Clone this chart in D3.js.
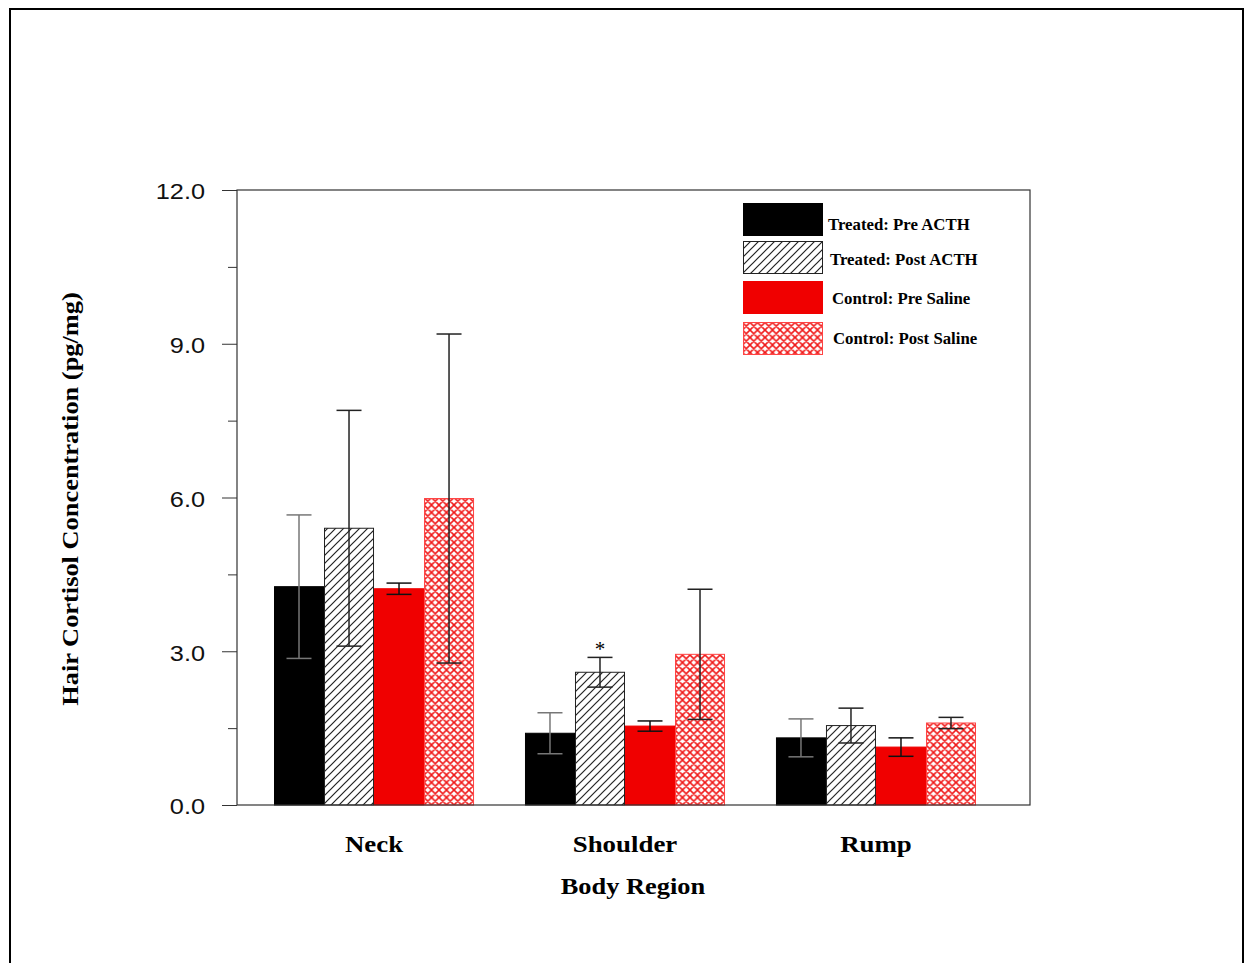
<!DOCTYPE html>
<html>
<head>
<meta charset="utf-8">
<script src="https://cdn.jsdelivr.net/npm/d3@7"></script>
<style>
  body { margin: 0; background: #fff; }
  svg { display: block; }
</style>
</head>
<body>
<svg id="chart" width="1246" height="963"></svg>
<script>
// data
var regions = ["Neck", "Shoulder", "Rump"];
var seriesNames = ["Treated: Pre ACTH", "Treated: Post ACTH", "Control: Pre Saline", "Control: Post Saline"];

var preACTH = [4.26, 1.40, 1.31];
var postACTH = [5.40, 2.59, 1.55];
var preSaline = [4.22, 1.54, 1.13];
var postSaline = [5.98, 2.94, 1.60];

var preACTHErr = [1.40, 0.40, 0.37];
var postACTHErr = [2.30, 0.29, 0.34];
var preSalineErr = [0.11, 0.10, 0.18];
var postSalineErr = [3.21, 1.27, 0.11];

var postACTHMark = ["", "*", ""];

var majorTicks = [0, 3, 6, 9, 12];
var minorTicks = [1.5, 4.5, 7.5, 10.5];

var seriesValues = [preACTH, postACTH, preSaline, postSaline];
var seriesErrors = [preACTHErr, postACTHErr, preSalineErr, postSalineErr];
var seriesMarks = [null, postACTHMark, null, null];

// layout
var margin = {top: 190, left: 237},
    width = 793,
    height = 615;

var svg = d3.select("#chart");
var serif = "'Liberation Serif', 'Times New Roman', serif";

// stretch text horizontally around its own x (the original figure's text is wide)
function widen(sel, k) {
  sel.attr("transform", function() {
    var x0 = +d3.select(this).attr("x") || 0;
    return "translate(" + x0 + ",0) scale(" + k + ",1) translate(" + (-x0) + ",0)";
  });
}

// patterns
var defs = svg.append("defs");
var hatch = defs.append("pattern")
    .attr("id", "hatch")
    .attr("patternUnits", "userSpaceOnUse")
    .attr("width", 8).attr("height", 8);
hatch.append("rect").attr("width", 8).attr("height", 8).attr("fill", "#fff");
hatch.append("path")
    .attr("d", "M-2,2 L2,-2 M0,8 L8,0 M6,10 L10,6")
    .attr("stroke", "#222").attr("stroke-width", 1.2);

var p = 7.5;
var cross = defs.append("pattern")
    .attr("id", "cross")
    .attr("patternUnits", "userSpaceOnUse")
    .attr("width", p).attr("height", p);
cross.append("rect").attr("width", p).attr("height", p).attr("fill", "#fff");
cross.append("path")
    .attr("d", "M-2,2 L2,-2 M0," + p + " L" + p + ",0 M" + (p - 2) + "," + (p + 2) + " L" + (p + 2) + "," + (p - 2) +
               " M-2," + (p - 2) + " L2," + (p + 2) + " M0,0 L" + p + "," + p + " M" + (p - 2) + ",-2 L" + (p + 2) + ",2")
    .attr("stroke", "#f01818").attr("stroke-width", 1.6);

var fills = ["#000", "url(#hatch)", "#f00000", "url(#cross)"];
var strokes = ["#000", "#222", "#f00000", "#f44"];
var errColors = ["#777", "#222", "#111", "#222"];

// figure frame
svg.append("rect")
    .attr("x", 10).attr("y", 9)
    .attr("width", 1233).attr("height", 1000)
    .attr("fill", "none")
    .attr("stroke", "#000")
    .attr("stroke-width", 2);

var chart = svg.append("g")
    .attr("transform", "translate(" + margin.left + "," + margin.top + ")");

// scales
var x0 = d3.scaleBand()
    .domain(regions)
    .range([37, 739])
    .paddingInner(0.203)
    .paddingOuter(0);

var x1 = d3.scaleBand()
    .domain(d3.range(seriesNames.length))
    .range([0, x0.bandwidth()])
    .padding(0);

var y = d3.scaleLinear()
    .domain([0, 12])
    .range([height, 0]);

// bars
var groups = chart.selectAll(".region")
    .data(regions)
  .enter().append("g")
    .attr("class", "region")
    .attr("transform", function(d) { return "translate(" + x0(d) + ",0)"; });

groups.each(function(r, i) {
  var g = d3.select(this);
  seriesValues.forEach(function(vals, s) {
    g.append("rect")
        .attr("x", x1(s) + 0.5)
        .attr("width", x1.bandwidth() - 1)
        .attr("y", y(vals[i]))
        .attr("height", height - y(vals[i]))
        .attr("fill", fills[s])
        .attr("stroke", strokes[s])
        .attr("stroke-width", 1);
  });
  // error bars on top
  seriesValues.forEach(function(vals, s) {
    var cx = x1(s) + x1.bandwidth() / 2,
        hi = y(vals[i] + seriesErrors[s][i]),
        lo = y(vals[i] - seriesErrors[s][i]);
    var c = errColors[s];
    g.append("line").attr("x1", cx).attr("x2", cx).attr("y1", hi).attr("y2", lo)
        .attr("stroke", c).attr("stroke-width", 1.5);
    g.append("line").attr("x1", cx - 12.5).attr("x2", cx + 12.5).attr("y1", hi).attr("y2", hi)
        .attr("stroke", c).attr("stroke-width", 1.5);
    g.append("line").attr("x1", cx - 12.5).attr("x2", cx + 12.5).attr("y1", lo).attr("y2", lo)
        .attr("stroke", c).attr("stroke-width", 1.5);
    if (seriesMarks[s] && seriesMarks[s][i]) {
      g.append("text")
          .attr("x", cx)
          .attr("y", hi - 1)
          .attr("text-anchor", "middle")
          .attr("font-family", serif)
          .attr("font-size", 21)
          .text(seriesMarks[s][i]);
    }
  });
});

// plot frame
chart.append("rect")
    .attr("width", width)
    .attr("height", height)
    .attr("fill", "none")
    .attr("stroke", "#333")
    .attr("stroke-width", 1.2);

// y axis
var yAxis = chart.append("g")
    .call(d3.axisLeft(y).tickValues(majorTicks).tickSize(15).tickPadding(17).tickFormat(d3.format(".1f")));
yAxis.select(".domain").remove();
yAxis.selectAll("line").attr("stroke", "#333");
yAxis.selectAll("text")
    .attr("font-family", "'Liberation Sans', Arial, sans-serif")
    .attr("font-size", 22)
    .attr("dy", "0.4em")
    .attr("fill", "#111")
    .call(widen, 1.15);

var yMinor = chart.append("g")
    .call(d3.axisLeft(y).tickValues(minorTicks).tickSize(9).tickFormat(""));
yMinor.select(".domain").remove();
yMinor.selectAll("line").attr("stroke", "#333");

// category labels
chart.selectAll(".cat")
    .data(regions)
  .enter().append("text")
    .attr("class", "cat")
    .attr("x", function(d) { return x0(d) + x0.bandwidth() / 2; })
    .attr("y", height + 47)
    .attr("text-anchor", "middle")
    .attr("font-family", serif)
    .attr("font-weight", "bold")
    .attr("font-size", 24)
    .text(function(d) { return d; })
    .call(widen, 1.12);

// axis titles
svg.append("text")
    .attr("x", 633)
    .attr("y", 894)
    .attr("text-anchor", "middle")
    .attr("font-family", serif)
    .attr("font-weight", "bold")
    .attr("font-size", 24)
    .text("Body Region")
    .call(widen, 1.1);

svg.append("text")
    .attr("transform", "translate(78,499) rotate(-90) scale(1.1,1)")
    .attr("text-anchor", "middle")
    .attr("font-family", serif)
    .attr("font-weight", "bold")
    .attr("font-size", 24)
    .text("Hair Cortisol Concentration (pg/mg)");

// legend
var legendTop = [203, 241, 281, 322];
var legendTextX = [828, 830, 832, 833];
var legendTextY = [230, 265, 304, 344];
var legend = svg.append("g");
seriesNames.forEach(function(name, s) {
  legend.append("rect")
      .attr("x", 743.5)
      .attr("y", legendTop[s] + 0.5)
      .attr("width", 79)
      .attr("height", 32)
      .attr("fill", fills[s])
      .attr("stroke", strokes[s])
      .attr("stroke-width", 1);
  legend.append("text")
      .attr("x", legendTextX[s])
      .attr("y", legendTextY[s])
      .attr("font-family", serif)
      .attr("font-weight", "bold")
      .attr("font-size", 16)
      .text(name)
      .call(widen, 1.05);
});
</script>
</body>
</html>
